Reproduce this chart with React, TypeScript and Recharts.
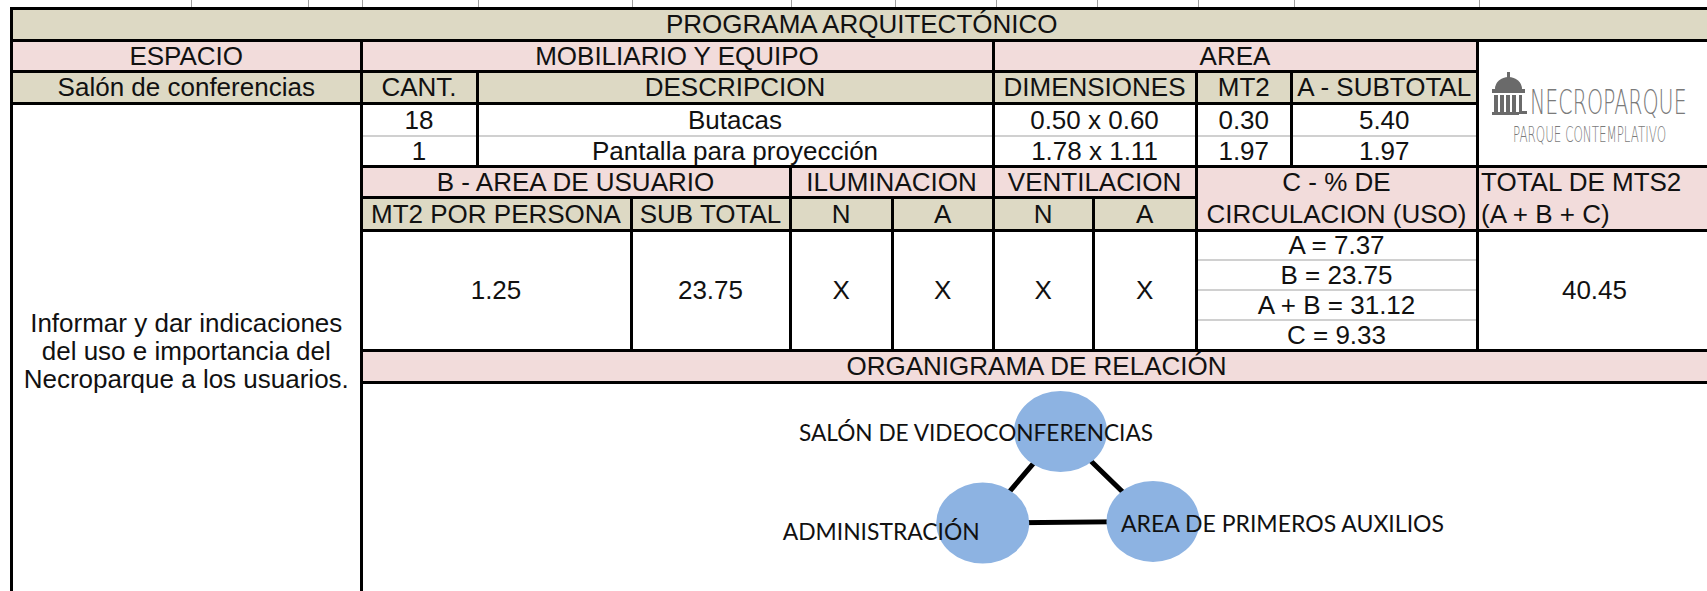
import React from 'react';
import { ScatterChart, Scatter, XAxis, YAxis } from 'recharts';

// ---------- DATA ----------
const tituloPrograma = 'PROGRAMA ARQUITECTÓNICO';
const espacioNombre = 'Salón de conferencias';
const espacioDescripcion = ['Informar y dar indicaciones', 'del uso e importancia del', 'Necroparque a los usuarios.'];
const cantidades = [18, 1];
const descripciones = ['Butacas', 'Pantalla para proyección'];
const dimensiones = ['0.50 x 0.60', '1.78 x 1.11'];
const mt2Valores = [0.3, 1.97];
const subtotalesA = [5.4, 1.97];
const mt2PorPersona = 1.25;
const subtotalB = 23.75;
const iluminacion = ['X', 'X'];
const ventilacion = ['X', 'X'];
const circulacion = ['A = 7.37', 'B = 23.75', 'A + B = 31.12', 'C = 9.33'];
const totalMts2 = 40.45;
const logoTitulo = 'NECROPARQUE';
const logoSubtitulo = 'PARQUE CONTEMPLATIVO';

// organigram nodes (x, y in a 0-100 diagram space, y upward)
const nodeNames = ['SALÓN DE VIDEOCONFERENCIAS', 'ADMINISTRACIÓN', 'AREA DE PRIMEROS AUXILIOS'];
const nodeX = [51.97, 46.19, 58.84];
const nodeY = [76.3, 32.5, 33.3];
const edgePathOrder = [0, 1, 2, 0];

// ---------- LAYOUT / STYLE ----------
const X = { L: 11.5, E: 361, C: 477, PP: 631, ST: 790, IN: 892.5, M: 993, VN: 1093.5, D: 1196, MT: 1291.5, AS: 1477, R: 1712 };
const Y = { T: 8.5, r1: 40, r2: 71, r3: 103, r4: 136, r5: 166, r6: 197.5, r7: 230, s1: 260, s2: 290, s3: 320, r8: 350.5, r9: 382, B: 591 };
const BEIGE = '#DDD9C4';
const PINK = '#F2DCDB';
const GRID = '#D0D0D0';
const FONT = '"Liberation Sans", Arial, sans-serif';
const FS = 26;
const tickXs = [191, 308, 362, 478, 632, 791, 895, 996, 1097, 1198, 1294, 1479];
const NODE_RX = 46.5;
const NODE_RY = 40.5;
const NODE_FILL = '#8DB3E2';
const labelStyle = [
  { dx: -261.5, dy: 9.5, len: 354 },
  { dx: -200, dy: 17, len: 197 },
  { dx: -32, dy: 10.5, len: 323 },
];

const nodes = nodeNames.map((name, i) => ({ name, idx: i, x: nodeX[i], y: nodeY[i] }));
const edgePath = edgePathOrder.map((i) => ({ name: nodeNames[i], x: nodeX[i], y: nodeY[i] }));

type CellProps = { x1: number; y1: number; x2: number; y2: number; bg?: string; text?: React.ReactNode; align?: 'center' | 'left'; pad?: number };
const Cell = ({ x1, y1, x2, y2, bg, text, align = 'center', pad = 0 }: CellProps) => (
  <div
    style={{
      position: 'absolute', left: x1, top: y1, width: x2 - x1, height: y2 - y1,
      background: bg || 'transparent', display: 'flex', alignItems: 'center',
      justifyContent: align === 'center' ? 'center' : 'flex-start', paddingLeft: pad,
      boxSizing: 'border-box', fontFamily: FONT, fontSize: FS, color: '#111', whiteSpace: 'nowrap',
      overflow: 'visible', lineHeight: 1,
    }}
  >
    {text}
  </div>
);

type Seg = [number, number, number, number];
const thick = 3;
const lines: Seg[] = [
  [X.L, Y.T, X.R, Y.T],
  [X.L, Y.r1, X.R, Y.r1],
  [X.L, Y.r2, X.AS, Y.r2],
  [X.L, Y.r3, X.AS, Y.r3],
  [X.E, Y.r5, X.R, Y.r5],
  [X.E, Y.r6, X.D, Y.r6],
  [X.E, Y.r7, X.R, Y.r7],
  [X.E, Y.r8, X.R, Y.r8],
  [X.E, Y.r9, X.R, Y.r9],
  [X.L, Y.T, X.L, Y.B],
  [X.E, Y.r1, X.E, Y.B],
  [X.C, Y.r2, X.C, Y.r5],
  [X.M, Y.r1, X.M, Y.r8],
  [X.D, Y.r2, X.D, Y.r8],
  [X.MT, Y.r2, X.MT, Y.r5],
  [X.AS, Y.r1, X.AS, Y.r8],
  [X.PP, Y.r6, X.PP, Y.r8],
  [X.ST, Y.r5, X.ST, Y.r8],
  [X.IN, Y.r6, X.IN, Y.r8],
  [X.VN, Y.r6, X.VN, Y.r8],
];
const grayLines: Seg[] = [
  [X.E, Y.r4, X.AS, Y.r4],
  [X.D, Y.s1, X.AS, Y.s1],
  [X.D, Y.s2, X.AS, Y.s2],
  [X.D, Y.s3, X.AS, Y.s3],
];

const LineDiv = ({ s, w, color }: { s: Seg; w: number; color: string }) => {
  const [x1, y1, x2, y2] = s;
  const horiz = y1 === y2;
  return (
    <div
      style={{
        position: 'absolute', background: color,
        left: x1 - w / 2,
        top: y1 - w / 2,
        width: horiz ? x2 - x1 + w : w,
        height: horiz ? w : y2 - y1 + w,
      }}
    />
  );
};

const EmptyShape = () => <g />;

const NodeShape = (props: any) => (
  <ellipse cx={props.cx} cy={props.cy} rx={NODE_RX} ry={NODE_RY} fill={NODE_FILL} />
);

const LabelShape = (props: any) => {
  const p = props.payload || props;
  const st = labelStyle[p.idx] || labelStyle[0];
  return (
    <text
      x={props.cx + st.dx}
      y={props.cy + st.dy}
      textLength={st.len}
      lengthAdjust="spacingAndGlyphs"
      fontFamily="Lato, 'Open Sans', sans-serif"
      fontSize={22.5}
      fill="#111"
    >
      {p.name}
    </text>
  );
};

const Logo = () => (
  <svg style={{ position: 'absolute', left: 0, top: 0 }} width={1707} height={591}>
    <g fill="#6a6a6a">
      <rect x={1507} y={72} width={3} height={6} />
      <path d="M1495 89 A13.5 12 0 0 1 1522 89 Z" />
      <rect x={1492} y={89} width={33} height={4} />
      <rect x={1494} y={95} width={4} height={18} />
      <rect x={1500} y={95} width={4} height={18} />
      <rect x={1506} y={95} width={4} height={18} />
      <rect x={1512} y={95} width={4} height={18} />
      <rect x={1519} y={95} width={3} height={18} />
      <rect x={1519} y={111} width={8} height={3} />
      <rect x={1492} y={112} width={27} height={3} />
    </g>
    <text transform="translate(1530,114) scale(0.604,1)" fontFamily="'DejaVu Sans', sans-serif" fontWeight={200}
      fontSize={34} fill="#7a7a7a">{logoTitulo}</text>
    <text transform="translate(1513,142) scale(0.58,1)" fontFamily="'DejaVu Sans', sans-serif" fontWeight={200}
      fontSize={20.5} fill="#7a7a7a">{logoSubtitulo}</text>
  </svg>
);

export default function App() {
  const rows = [Y.r3, Y.r4, Y.r5];
  const circRows = [Y.r7, Y.s1, Y.s2, Y.s3, Y.r8];
  return (
    <div style={{ position: 'absolute', left: 0, top: 0, width: 1707, height: 591, overflow: 'hidden', background: '#fff' }}>
      {tickXs.map((x) => (
        <div key={x} style={{ position: 'absolute', left: x, top: 0, width: 1, height: 8, background: '#A0A0A0' }} />
      ))}

      <Cell x1={X.L} y1={Y.T} x2={X.R} y2={Y.r1} bg={BEIGE} text={tituloPrograma} />
      <Cell x1={X.L} y1={Y.r1} x2={X.E} y2={Y.r2} bg={PINK} text="ESPACIO" />
      <Cell x1={X.E} y1={Y.r1} x2={X.M} y2={Y.r2} bg={PINK} text="MOBILIARIO Y EQUIPO" />
      <Cell x1={X.M} y1={Y.r1} x2={X.AS} y2={Y.r2} bg={PINK} text="AREA" />
      <Cell x1={X.L} y1={Y.r2} x2={X.E} y2={Y.r3} bg={BEIGE} text={espacioNombre} />
      <Cell x1={X.E} y1={Y.r2} x2={X.C} y2={Y.r3} bg={BEIGE} text="CANT." />
      <Cell x1={X.C} y1={Y.r2} x2={X.M} y2={Y.r3} bg={BEIGE} text="DESCRIPCION" />
      <Cell x1={X.M} y1={Y.r2} x2={X.D} y2={Y.r3} bg={BEIGE} text="DIMENSIONES" />
      <Cell x1={X.D} y1={Y.r2} x2={X.MT} y2={Y.r3} bg={BEIGE} text="MT2" />
      <Cell x1={X.MT} y1={Y.r2} x2={X.AS} y2={Y.r3} bg={BEIGE} text="A - SUBTOTAL" />
      {cantidades.map((c, i) => (
        <React.Fragment key={i}>
          <Cell x1={X.E} y1={rows[i]} x2={X.C} y2={rows[i + 1]} text={String(c)} />
          <Cell x1={X.C} y1={rows[i]} x2={X.M} y2={rows[i + 1]} text={descripciones[i]} />
          <Cell x1={X.M} y1={rows[i]} x2={X.D} y2={rows[i + 1]} text={dimensiones[i]} />
          <Cell x1={X.D} y1={rows[i]} x2={X.MT} y2={rows[i + 1]} text={mt2Valores[i].toFixed(2)} />
          <Cell x1={X.MT} y1={rows[i]} x2={X.AS} y2={rows[i + 1]} text={subtotalesA[i].toFixed(2)} />
        </React.Fragment>
      ))}
      <div style={{ position: 'absolute', left: X.L, top: Y.r3 + 9, width: X.E - X.L, height: Y.B - Y.r3 - 11, display: 'flex',
        flexDirection: 'column', alignItems: 'center', justifyContent: 'center', fontFamily: FONT, fontSize: FS, color: '#111' }}>
        {espacioDescripcion.map((t) => (
          <div key={t} style={{ height: 28, lineHeight: '28px', whiteSpace: 'nowrap' }}>{t}</div>
        ))}
      </div>
      <Cell x1={X.E} y1={Y.r5} x2={X.ST} y2={Y.r6} bg={PINK} text="B - AREA DE USUARIO" />
      <Cell x1={X.ST} y1={Y.r5} x2={X.M} y2={Y.r6} bg={PINK} text="ILUMINACION" />
      <Cell x1={X.M} y1={Y.r5} x2={X.D} y2={Y.r6} bg={PINK} text="VENTILACION" />
      <Cell x1={X.D} y1={Y.r5} x2={X.AS} y2={Y.r7} bg={PINK} />
      <Cell x1={X.D} y1={Y.r5} x2={X.AS} y2={Y.r6} text="C - % DE" />
      <Cell x1={X.D} y1={Y.r6} x2={X.AS} y2={Y.r7} text="CIRCULACION (USO)" />
      <Cell x1={X.AS} y1={Y.r5} x2={X.R} y2={Y.r7} bg={PINK} />
      <Cell x1={X.AS} y1={Y.r5} x2={X.R} y2={Y.r6} text="TOTAL DE MTS2" align="left" pad={4} />
      <Cell x1={X.AS} y1={Y.r6} x2={X.R} y2={Y.r7} text="(A + B + C)" align="left" pad={4} />
      <Cell x1={X.E} y1={Y.r6} x2={X.PP} y2={Y.r7} bg={BEIGE} text="MT2 POR PERSONA" />
      <Cell x1={X.PP} y1={Y.r6} x2={X.ST} y2={Y.r7} bg={BEIGE} text="SUB TOTAL" />
      <Cell x1={X.ST} y1={Y.r6} x2={X.IN} y2={Y.r7} bg={BEIGE} text="N" />
      <Cell x1={X.IN} y1={Y.r6} x2={X.M} y2={Y.r7} bg={BEIGE} text="A" />
      <Cell x1={X.M} y1={Y.r6} x2={X.VN} y2={Y.r7} bg={BEIGE} text="N" />
      <Cell x1={X.VN} y1={Y.r6} x2={X.D} y2={Y.r7} bg={BEIGE} text="A" />
      <Cell x1={X.E} y1={Y.r7} x2={X.PP} y2={Y.r8} text={mt2PorPersona.toFixed(2)} />
      <Cell x1={X.PP} y1={Y.r7} x2={X.ST} y2={Y.r8} text={subtotalB.toFixed(2)} />
      <Cell x1={X.ST} y1={Y.r7} x2={X.IN} y2={Y.r8} text={iluminacion[0]} />
      <Cell x1={X.IN} y1={Y.r7} x2={X.M} y2={Y.r8} text={iluminacion[1]} />
      <Cell x1={X.M} y1={Y.r7} x2={X.VN} y2={Y.r8} text={ventilacion[0]} />
      <Cell x1={X.VN} y1={Y.r7} x2={X.D} y2={Y.r8} text={ventilacion[1]} />
      {circulacion.map((t, i) => (
        <Cell key={t} x1={X.D} y1={circRows[i]} x2={X.AS} y2={circRows[i + 1]} text={t} />
      ))}
      <Cell x1={X.AS} y1={Y.r7} x2={X.R} y2={Y.r8} text={totalMts2.toFixed(2)} />
      <Cell x1={X.E} y1={Y.r8} x2={X.R} y2={Y.r9} bg={PINK} text="ORGANIGRAMA DE RELACIÓN" />

      <div style={{ position: 'absolute', left: X.E, top: Y.r9 }}>
        <ScatterChart width={1707 - X.E} height={Y.B - Y.r9} margin={{ top: 0, right: 0, bottom: 0, left: 0 }}>
          <XAxis dataKey="x" type="number" domain={[0, 100]} hide />
          <YAxis dataKey="y" type="number" domain={[0, 100]} hide />
          <Scatter data={edgePath} line={{ stroke: '#000', strokeWidth: 5 }} lineType="joint" shape={EmptyShape} isAnimationActive={false} />
          <Scatter data={nodes} shape={NodeShape} isAnimationActive={false} />
          <Scatter data={nodes} shape={LabelShape} isAnimationActive={false} />
        </ScatterChart>
      </div>

      <Logo />

      {grayLines.map((s, i) => <LineDiv key={'g' + i} s={s} w={2} color={GRID} />)}
      {lines.map((s, i) => <LineDiv key={'l' + i} s={s} w={thick} color="#000" />)}
    </div>
  );
}
